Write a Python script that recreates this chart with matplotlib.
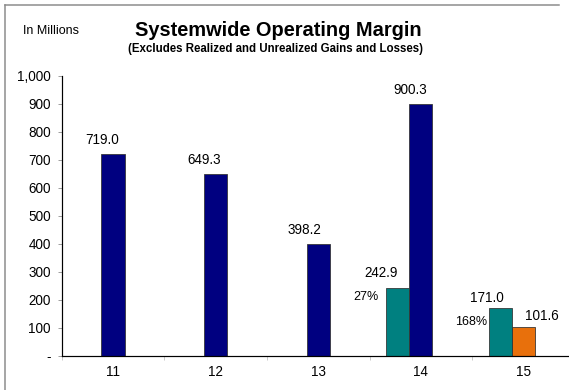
import matplotlib
matplotlib.use("Agg")
import matplotlib.pyplot as plt
from matplotlib.lines import Line2D
import numpy as np

plt.rcParams["font.family"] = ["Liberation Sans", "DejaVu Sans"]

NAVY = "#000080"
TEAL = "#008080"
ORANGE = "#E8700C"

years = ["11", "12", "13", "14", "15"]
main_vals = [719.0, 649.3, 398.2, 900.3, 101.6]
main_colors = [NAVY, NAVY, NAVY, NAVY, ORANGE]
side_vals = [None, None, None, 242.9, 171.0]
side_pct = [None, None, None, "27%", "168%"]

# label offsets (points) for the value text above each bar
main_dx = [-11, -11, -14, -11, 18]
main_dy = [7, 7, 7, 7, 4]
side_dx = [0, 0, 0, -17, -13]
side_dy = [0, 0, 0, 8, 3]
pct_dx = [0, 0, 0, -8, -2]
pct_dy = [0, 0, 0, -9, -14]

W, H = 569, 390
fig = plt.figure(figsize=(W / 72, H / 72), dpi=72)
ax = fig.add_axes([61.7 / W, (H - 355.5) / H, 513 / W, (355.5 - 75.7) / H])

x = np.arange(len(years))
bw = 0.225
ax.bar(x, main_vals, width=bw, color=main_colors, edgecolor="#333333",
       linewidth=0.8, zorder=2)
for i, v in enumerate(side_vals):
    if v is None:
        continue
    ax.bar(x[i] - bw, v, width=bw, color=TEAL, edgecolor="#333333",
           linewidth=0.8, zorder=2)
    ax.annotate(f"{v:.1f}", (x[i] - bw, v), xytext=(side_dx[i], side_dy[i]),
                textcoords="offset points", ha="center", va="bottom",
                fontsize=13.5)
    ax.annotate(side_pct[i], (x[i] - 1.5 * bw, v),
                xytext=(pct_dx[i], pct_dy[i]), textcoords="offset points",
                ha="right", va="center", fontsize=12.5)

for i, v in enumerate(main_vals):
    ax.annotate(f"{v:.1f}", (x[i], v), xytext=(main_dx[i], main_dy[i]),
                textcoords="offset points", ha="center", va="bottom",
                fontsize=13.5)

ax.set_xlim(-0.5, len(years) - 0.5)
ax.set_ylim(0, 1000)
ax.set_yticks(np.arange(0, 1001, 100))
ax.set_yticklabels(["-" if t == 0 else f"{t:,}" for t in range(0, 1001, 100)],
                   fontsize=13.5)
ax.set_xticks(x)
ax.set_xticklabels(years, fontsize=13.5)
ax.set_xticks(np.arange(-0.5, len(years), 1.0), minor=True)
ax.tick_params(axis="x", which="major", length=0, pad=10)
ax.tick_params(axis="x", which="minor", length=4, color="#aaaaaa", direction="out")
ax.tick_params(axis="y", length=4, color="#888888", pad=7)

for s in ("top", "right"):
    ax.spines[s].set_visible(False)
ax.spines["left"].set_linewidth(1.2)
ax.spines["bottom"].set_linewidth(1.2)

fig.text(278 / W, 1 - 31 / H, "Systemwide Operating Margin", ha="center",
         va="center", fontsize=20, fontweight="bold")
fig.text(276 / W, 1 - 49 / H, "(Excludes Realized and Unrealized Gains and Losses)",
         ha="center", va="center", fontsize=11.5, fontweight="bold")
fig.text(23 / W, 1 - 31 / H, "In Millions", ha="left", va="center", fontsize=12.5)

# frame around the slide area
fig.add_artist(Line2D([5 / W, 559 / W], [1 - 5 / H, 1 - 5 / H], color="#8a8a8a",
                      linewidth=1.5, transform=fig.transFigure))
fig.add_artist(Line2D([5 / W, 5 / W], [0, 1 - 5 / H], color="#8a8a8a",
                      linewidth=1.5, transform=fig.transFigure))

fig.savefig("out.png", dpi=72)
